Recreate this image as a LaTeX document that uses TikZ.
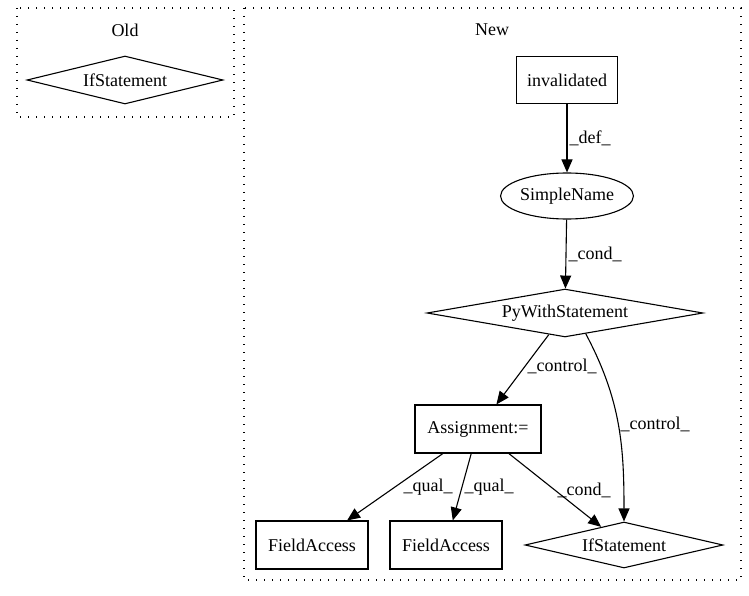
\documentclass[tikz,border=0pt]{standalone}
\usepackage{fontspec}
\setmainfont{Liberation Serif}
\usetikzlibrary{positioning,arrows.meta,calc,shapes.geometric}

\begin{document}
\begin{tikzpicture}[x=1pt,y=-1pt,
    font=\fontsize{18}{20}\selectfont,
    line width=1.1pt,
    cluster/.style={draw, line width=1.3pt, dash pattern=on 1.3pt off 6.7pt},
    stmtbox/.style={draw, rectangle, inner sep=0pt},
    stmtdia/.style={draw, diamond, shape aspect=4, inner sep=0pt},
    stmtell/.style={draw, ellipse, inner sep=0pt},
    flow/.style={-{Triangle[length=13pt,width=11pt]}},
    lbl/.style={right, inner sep=2pt}]
  \useasboundingbox (0,0) rectangle (749,596);

  % Old
  \draw[cluster] (17,8) rectangle (234,117);
  \node (oldtitle) at (125,30) {Old};
  \node[stmtdia, minimum width=196pt, minimum height=48pt] (oldif) at (125,80) {IfStatement};

  % New
  \draw[cluster] (244,8) rectangle (741,580);
  \node (newtitle) at (492,30) {New};
  \node[stmtbox, minimum width=101pt, minimum height=47pt] (inv) at (567,80) {invalidated};
  \node[stmtell, minimum width=110pt, minimum height=46pt] (simple) at (567,196) {SimpleName};
  \node[stmtdia, minimum width=276pt, minimum height=46pt] (pyw) at (565,313) {PyWithStatement};
  \node[stmtbox, minimum width=126pt, minimum height=48pt] (assign) at (478,429) {Assignment:=};
  \node[stmtbox, minimum width=112pt, minimum height=48pt] (fa1) at (312,545) {FieldAccess};
  \node[stmtbox, minimum width=112pt, minimum height=48pt] (fa2) at (446,545) {FieldAccess};
  \node[stmtdia, minimum width=198pt, minimum height=46pt] (newif) at (624,545) {IfStatement};

  % edges
  \draw[flow] (inv) -- node[lbl] {\_def\_} (simple);
  \draw[flow] (simple) -- node[lbl] {\_cond\_} (pyw);
  \draw[flow] (pyw) -- node[lbl, pos=0.45] {\_control\_} (assign);
  \draw[flow] ($(pyw.south)!0.15!(pyw.east)$) to[out=-62, in=90] node[lbl, pos=0.5] {\_control\_} (newif.north);
  \draw[flow] (assign) -- node[lbl, inner sep=8pt] {\_qual\_} (fa1);
  \draw[flow] (assign) -- node[lbl] {\_qual\_} (fa2);
  \draw[flow] (assign) -- node[lbl] {\_cond\_} (newif);
\end{tikzpicture}
\end{document}
